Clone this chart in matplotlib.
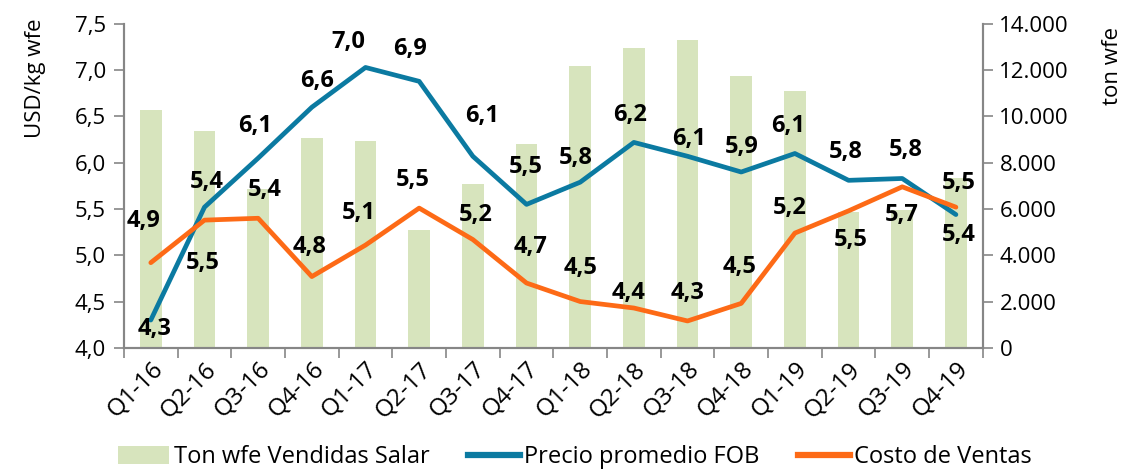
import numpy as np
import matplotlib
matplotlib.use("Agg")
import matplotlib.pyplot as plt
from matplotlib.patches import Patch
from matplotlib.lines import Line2D

plt.rcParams["font.family"] = ["Open Sans", "DejaVu Sans"]

# ── data ────────────────────────────────────────────────────────────────────
quarters = ["Q1-16", "Q2-16", "Q3-16", "Q4-16", "Q1-17", "Q2-17", "Q3-17", "Q4-17",
            "Q1-18", "Q2-18", "Q3-18", "Q4-18", "Q1-19", "Q2-19", "Q3-19", "Q4-19"]

ton_vendidas = [10280, 9370, 6870, 9070, 8940, 5100, 7080, 8810,
                12180, 12960, 13300, 11750, 11100, 5880, 5960, 7340]

precio_fob = [4.30, 5.52, 6.05, 6.60, 7.03, 6.88, 6.07, 5.55,
              5.79, 6.22, 6.07, 5.90, 6.10, 5.81, 5.83, 5.44]
precio_lbl = ["4,3", "5,5", "6,1", "6,6", "7,0", "6,9", "6,1", "5,5",
              "5,8", "6,2", "6,1", "5,9", "6,1", "5,8", "5,8", "5,4"]

costo_ventas = [4.92, 5.38, 5.40, 4.77, 5.11, 5.51, 5.17, 4.70,
                4.50, 4.43, 4.29, 4.48, 5.24, 5.48, 5.74, 5.52]
costo_lbl = ["4,9", "5,4", "5,4", "4,8", "5,1", "5,5", "5,2", "4,7",
             "4,5", "4,4", "4,3", "4,5", "5,2", "5,5", "5,7", "5,5"]

# label offsets in pixels (dx, dy) from each point, as placed in the original
precio_off = [(4, -9), (-2, -56), (-3, 32), (5, 26), (-17, 25), (-9, 32), (9, 40), (-1, 37),
              (-4, 24), (-4, 27), (2, 17), (1, 25), (-7, 28), (-3, 28), (4, 28), (3, -20)]
costo_off = [(-7, 42), (2, 38), (7, 28), (-2, 30), (-7, 32), (-6, 28), (3, 25), (4, 36),
             (0, 34), (-5, 15), (0, 28), (-2, 36), (-5, 25), (2, -29), (0, -28), (3, 24)]

BAR_C = "#d7e4bd"
BLUE = "#0b7aa1"
ORANGE = "#fd6a16"
GREY = "#868686"
FS = 16

# ── figure ──────────────────────────────────────────────────────────────────
fig = plt.figure(figsize=(11.27, 4.70), dpi=100)
ax = fig.add_axes([0.110, 0.260, 0.762, 0.689])   # bars (right scale)
ax2 = ax.twinx()                                    # lines (left scale)

x = np.arange(len(quarters))

ax.bar(x, ton_vendidas, width=0.4, color=BAR_C, zorder=1)
ax.set_ylim(0, 14000)
ax.set_yticks(np.arange(0, 14001, 2000))
ax.set_yticklabels([f"{v:,}".replace(",", ".") for v in range(0, 14001, 2000)])
ax.yaxis.tick_right()

ax2.yaxis.tick_left()
ax2.plot(x, precio_fob, color=BLUE, lw=3.4, solid_joinstyle="round", solid_capstyle="round", zorder=3)
ax2.plot(x, costo_ventas, color=ORANGE, lw=3.4, solid_joinstyle="round", solid_capstyle="round", zorder=3)
ax2.set_ylim(4.0, 7.5)
ax2.set_yticks(np.arange(4.0, 7.51, 0.5))
ax2.set_yticklabels([f"{v:.1f}".replace(".", ",") for v in np.arange(4.0, 7.51, 0.5)])

fig.text(35 / 1127, 1 - 78 / 470, "USD/kg wfe", rotation=90, ha="center", va="center", fontsize=FS)
fig.text(1113 / 1127, 1 - 66 / 470, "ton wfe", rotation=90, ha="center", va="center", fontsize=FS)

for xi, yi, lab, (dx, dy) in zip(x, precio_fob, precio_lbl, precio_off):
    ax2.annotate(lab, (xi, yi), xytext=(dx * 0.72, dy * 0.72), textcoords="offset points",
                 ha="center", va="center", fontsize=FS + 1, fontweight="bold", color="black", zorder=5)
for xi, yi, lab, (dx, dy) in zip(x, costo_ventas, costo_lbl, costo_off):
    ax2.annotate(lab, (xi, yi), xytext=(dx * 0.72, dy * 0.72), textcoords="offset points",
                 ha="center", va="center", fontsize=FS + 1, fontweight="bold", color="black", zorder=5)

# x axis: tick marks between categories, labels at centres
ax.set_xlim(-0.5, len(quarters) - 0.5)
ax.set_xticks(np.arange(-0.5, len(quarters)), labels=[])
ax.set_xticks(x, labels=quarters, minor=True)
ax.tick_params(axis="x", which="major", length=7, width=1.2, color=GREY, direction="out")
ax.tick_params(axis="x", which="minor", length=0, labelsize=FS + 1.5, pad=7)
for lbl in ax.get_xticklabels(minor=True):
    lbl.set_rotation(45)
    lbl.set_ha("right")
    lbl.set_rotation_mode("anchor")

ax.tick_params(axis="y", length=7, width=1.2, color=GREY, labelsize=FS, pad=5)
ax2.tick_params(axis="y", length=7, width=1.2, color=GREY, labelsize=FS, pad=6)

for a in (ax, ax2):
    a.spines["top"].set_visible(False)
    for s in ("left", "right", "bottom"):
        a.spines[s].set_color(GREY)
        a.spines[s].set_linewidth(1.5)

handles = [Patch(facecolor=BAR_C, label="Ton wfe Vendidas Salar"),
           Line2D([0], [0], color=BLUE, lw=4.5, label="Precio promedio FOB"),
           Line2D([0], [0], color=ORANGE, lw=4.5, label="Costo de Ventas")]
fig.legend(handles=handles, loc="center", bbox_to_anchor=(0.51, 0.027), ncol=3,
           frameon=False, fontsize=FS + 1, handlelength=2.2, handleheight=0.8,
           handletextpad=0.2, columnspacing=1.6, borderaxespad=0)

fig.savefig("out.png", dpi=100)
